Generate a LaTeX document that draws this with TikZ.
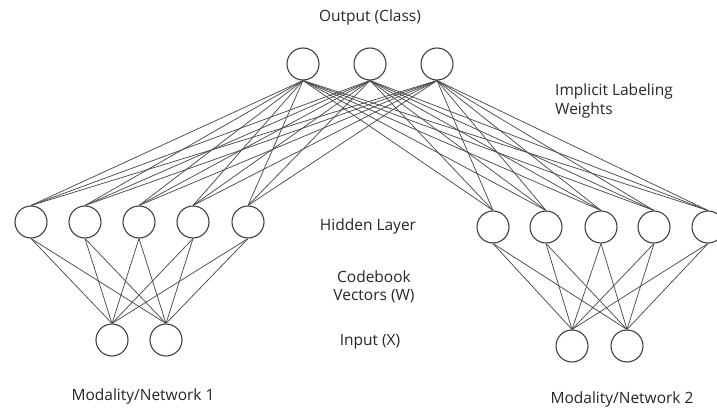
\documentclass[tikz,border=0pt]{standalone}
\usepackage{fontspec}
\setmainfont{Open Sans}
\usepackage{tikz}

\begin{document}
\begin{tikzpicture}[x=1pt, y=-1pt,
		unit/.style={draw=black!75, circle, line width=1.1pt, minimum size=32pt, inner sep=0pt},
		wire/.style={draw=black!70, line width=0.75pt},
		lbl/.style={text=black!85, font=\fontsize{15.5}{18.5}\selectfont, align=center}]
				\useasboundingbox (0,0) rectangle (717,412);
				% output layer
				\node[unit] (O1)at(303, 64) {};
				\node[unit] (O2)at(370, 64) {};
				\node[unit] (O3)at(437, 64) {};
				% network 1
				\node[unit] (L1)at(31, 222) {};
				\node[unit] (L2)at(85, 222) {};
				\node[unit] (L3)at(139, 222) {};
				\node[unit] (L4)at(193, 222) {};
				\node[unit] (L5)at(248, 222) {};
				\node[unit] (LX1)at(112, 340) {};
				\node[unit] (LX2)at(166, 340) {};
				% network 2
				\node[unit] (R1)at(493, 227) {};
				\node[unit] (R2)at(546, 227) {};
				\node[unit] (R3)at(601, 227) {};
				\node[unit] (R4)at(654, 227) {};
				\node[unit] (R5)at(708, 227) {};
				\node[unit] (RX1)at(572, 346) {};
				\node[unit] (RX2)at(627, 346) {};
				% weights
				\foreach \o in {O1,O2,O3}
					\foreach \h in {L1,L2,L3,L4,L5,R1,R2,R3,R4,R5}
						\draw[wire] (\o.south) -- (\h.north);
				\foreach \h in {L1,L2,L3,L4,L5}
					\foreach \x in {LX1,LX2}
						\draw[wire] (\h.south) -- (\x.north);
				\foreach \h in {R1,R2,R3,R4,R5}
					\foreach \x in {RX1,RX2}
						\draw[wire] (\h.south) -- (\x.north);
				% labels
				\node[lbl] (out)at(370, 17) {Output (Class)};
				\node[lbl, align=left] (ilw)at(614, 101) {Implicit Labeling\\Weights};
				\node[lbl] (hid)at(368, 226) {Hidden Layer};
				\node[lbl] (cbv)at(374, 287) {Codebook\\Vectors (W)};
				\node[lbl] (inp)at(370, 342) {Input (X)};
				\node[lbl] (net1)at(143, 396) {Modality/Network 1};
				\node[lbl] (net2)at(622, 399) {Modality/Network 2};
			\end{tikzpicture}
\end{document}
